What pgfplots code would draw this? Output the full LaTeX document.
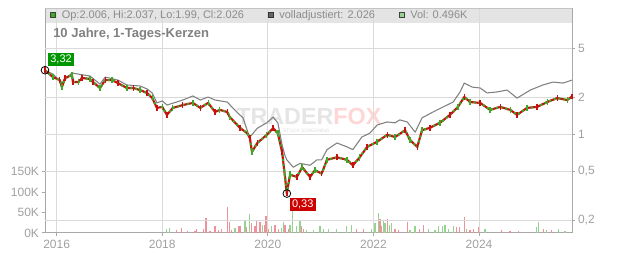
\documentclass[border=0pt]{standalone}
\usepackage{fontspec}
\setmainfont{Liberation Sans}
\usepackage{pgfplots}
\pgfplotsset{compat=1.18}
\usepackage{pgfplotstable}

\definecolor{gridc}{RGB}{218,218,218}
\definecolor{axisc}{RGB}{168,168,168}
\definecolor{tickc}{RGB}{160,160,160}
\definecolor{bandc}{RGB}{228,228,228}
\definecolor{txtc}{RGB}{128,128,128}
\definecolor{legc}{RGB}{140,140,140}
\definecolor{candr}{RGB}{200,16,16}
\definecolor{candg}{RGB}{60,170,40}
\definecolor{adjc}{RGB}{128,128,128}
\definecolor{volr}{RGB}{238,145,155}
\definecolor{volg}{RGB}{150,210,145}
\definecolor{lblg}{RGB}{0,150,0}
\definecolor{lblr}{RGB}{204,0,0}

\pgfplotstableread{
t p
2015.78 3.32
2015.93 2.92
2016.06 2.76
2016.10 2.42
2016.16 2.87
2016.29 3.03
2016.31 2.66
2016.41 2.66
2016.48 2.87
2016.63 2.82
2016.69 2.66
2016.82 2.38
2016.92 2.76
2017.05 2.76
2017.16 2.61
2017.33 2.38
2017.45 2.38
2017.58 2.29
2017.71 2.17
2017.81 1.97
2017.90 1.64
2018.00 1.67
2018.09 1.44
2018.20 1.64
2018.39 1.73
2018.58 1.80
2018.72 1.64
2018.87 1.80
2019.00 1.52
2019.09 1.58
2019.23 1.52
2019.28 1.38
2019.47 1.13
2019.61 1.02
2019.66 0.93
2019.70 0.72
2019.80 0.85
2019.98 0.99
2020.10 1.12
2020.19 1.02
2020.27 0.72
2020.32 0.47
2020.36 0.33
2020.42 0.47
2020.55 0.45
2020.65 0.54
2020.80 0.45
2020.89 0.51
2021.02 0.48
2021.12 0.62
2021.31 0.65
2021.50 0.62
2021.61 0.56
2021.74 0.65
2021.88 0.79
2022.07 0.87
2022.26 0.99
2022.41 0.95
2022.60 1.08
2022.69 0.90
2022.83 0.79
2022.92 1.08
2023.07 1.13
2023.26 1.24
2023.45 1.44
2023.60 1.67
2023.72 2.01
2023.83 1.83
2024.02 1.80
2024.21 1.58
2024.40 1.67
2024.59 1.58
2024.72 1.44
2024.91 1.64
2025.10 1.67
2025.29 1.83
2025.48 1.97
2025.67 1.90
2025.76 2.03
}\price

\pgfplotstableread{
t p
2015.78 3.32
2015.93 3.09
2016.10 2.61
2016.29 3.15
2016.63 2.98
2016.82 2.56
2016.92 2.92
2017.16 2.76
2017.33 2.52
2017.58 2.47
2017.71 2.34
2017.81 2.17
2017.90 1.80
2018.00 1.87
2018.09 1.73
2018.39 1.90
2018.58 2.05
2018.72 1.90
2018.87 2.01
2019.00 1.90
2019.23 1.83
2019.41 1.52
2019.53 1.36
2019.62 1.04
2019.66 0.95
2019.80 1.12
2019.98 1.24
2020.10 1.38
2020.19 1.24
2020.27 0.82
2020.32 0.68
2020.36 0.62
2020.48 0.54
2020.61 0.58
2020.80 0.56
2020.93 0.62
2021.02 0.62
2021.12 0.75
2021.31 0.85
2021.50 0.79
2021.61 0.75
2021.78 0.95
2021.93 1.02
2022.07 1.19
2022.26 1.26
2022.41 1.24
2022.50 1.31
2022.64 1.26
2022.79 1.04
2022.92 1.36
2023.13 1.52
2023.32 1.67
2023.51 1.83
2023.64 2.21
2023.72 2.61
2023.87 2.42
2024.02 2.38
2024.15 2.17
2024.34 2.21
2024.53 2.29
2024.72 1.97
2024.97 2.29
2025.21 2.52
2025.40 2.66
2025.59 2.61
2025.76 2.76
}\adjusted

\pgfplotstableread{
t v
2018.275 7
2018.369 13
2018.475 4
2018.621 5
2018.653 11
2018.778 11
2018.830 37
2018.905 5
2019.000 18
2019.063 8
2019.127 11
2019.233 64
2019.271 26
2019.316 8
2019.441 18
2019.473 17
2019.600 14
2019.695 24
2019.758 18
2019.790 29
2019.852 26
2019.947 19
2019.966 42
2020.009 11
2020.136 20
2020.199 11
2020.326 20
2020.388 11
2020.642 16
2020.672 11
2021.684 11
2021.809 11
2022.125 34
2022.157 16
2022.263 34
2022.409 11
2022.472 7
2022.650 28
2022.869 11
2022.945 19
2023.578 14
2023.627 14
2023.722 40
2023.830 7
2023.892 11
2023.987 14
2024.430 7
2024.587 5
2024.744 5
2025.218 11
2025.377 7
}\volred

\pgfplotstableread{
t v
2018.085 11
2018.134 13
2019.379 12
2019.568 32
2019.650 46
2019.903 19
2020.074 16
2020.263 13
2020.294 26
2020.420 20
2020.464 85
2020.547 16
2020.610 32
2020.737 7
2020.862 7
2020.989 16
2021.051 11
2021.146 10
2021.305 11
2021.494 16
2021.589 19
2021.968 11
2022.030 24
2022.093 48
2022.188 29
2022.220 24
2022.301 20
2022.347 24
2022.693 7
2022.788 16
2023.040 11
2023.167 7
2023.229 16
2023.313 16
2023.356 19
2023.419 11
2023.514 16
2023.767 11
2024.114 11
2025.093 14
2025.123 28
2025.282 7
2025.502 10
2025.629 5
}\volgreen

\begin{document}
\begin{tikzpicture}[x=0.75pt,y=0.75pt]
\useasboundingbox (0,0) rectangle (632,253);
% legend band
\fill[bandc] (45,{253-22.7}) rectangle (572,245);
% watermark
\node[anchor=base west, inner sep=0, font=\fontsize{17.5}{19}\selectfont\bfseries, text=black!10] at (236,{253-125}) {TRADER\textcolor{red!16}{FOX}};
\node[anchor=base west, inner sep=0, font=\fontsize{3.6}{4}\selectfont, text=black!14] at (283,{253-132.5}) {STOCK SCREENING};

% volume axis
\begin{axis}[
  at={(33.75pt,15pt)}, anchor=south west, scale only axis,
  width=395.25pt, height=168.75pt,
  xmin=2015.78, xmax=2025.76, ymin=0, ymax=551,
  axis x line*=bottom, axis y line*=left,
  axis line style={axisc, line width=0.75pt},
  xtick={2016,2018,2020,2022,2024},
  xticklabels={2016,2018,2020,2022,2024},
  ytick={0,50,100,150},
  yticklabels={0K,50K,100K,150K},
  scaled y ticks=false,
  xmajorgrids, major grid style={gridc, line width=0.75pt},
  tick align=outside, major tick length=2.5pt,
  tick style={axisc, line width=0.75pt},
  ticklabel style={font=\fontsize{9}{10}\selectfont, text=tickc},
  xticklabel style={yshift=1pt},
  yticklabel style={xshift=1.5pt},
]
\addplot[ycomb, volr, line width=0.9pt] table[x=t,y=v] {\volred};
\addplot[ycomb, volg, line width=0.9pt] table[x=t,y=v] {\volgreen};
\end{axis}

% price axis
\begin{axis}[
  at={(33.75pt,15pt)}, anchor=south west, scale only axis,
  width=395.25pt, height=168.75pt,
  xmin=2015.78, xmax=2025.76,
  ymode=log, ymin=0.1576, ymax=10.64,
  axis x line=none, axis y line*=right,
  axis line style={axisc, line width=0.75pt},
  xtick=\empty,
  ytick={0.2,0.5,1,2,5},
  yticklabels={{0,2},{0,5},1,2,5},
  yminorticks=false,
  ymajorgrids, major grid style={gridc, line width=0.75pt},
  tick align=outside, major tick length=2.5pt,
  tick style={axisc, line width=0.75pt},
  ticklabel style={font=\fontsize{9}{10}\selectfont, text=tickc},
  yticklabel style={xshift=-1.5pt},
  clip=false,
]
\draw[gridc!90!black, line width=0.75pt] (rel axis cs:0,1) -- (rel axis cs:1,1);
\addplot[adjc, line width=0.8pt, line join=round] table[x=t,y=p] {\adjusted};
\addplot[candr, line width=1.6pt, line join=round, mark=|, mark size=2.2pt, mark options={line width=1pt}] table[x=t,y=p] {\price};
\addplot[candg, line width=1.6pt, line join=round, dash pattern=on 1.5pt off 2.2pt, mark=|, mark size=2.4pt, mark repeat=2, mark phase=2, mark options={solid, line width=1pt}] table[x=t,y=p] {\price};
\addplot[only marks, mark=o, mark size=2.9pt, black, line width=0.6pt] coordinates {(2015.78,3.32) (2020.36,0.33)};
\node[anchor=south west, fill=lblg, text=white, inner xsep=1.6pt, inner ysep=0pt, minimum height=9.75pt, font=\fontsize{8.25}{9}\selectfont, xshift=2.2pt, yshift=2.8pt] at (axis cs:2015.78,3.32) {3,32};
\node[anchor=north west, fill=lblr, text=white, inner xsep=1.6pt, inner ysep=0pt, minimum height=9.75pt, font=\fontsize{8.25}{9}\selectfont, xshift=2.1pt, yshift=-3.1pt] at (axis cs:2020.36,0.33) {0,33};
\end{axis}

% legend entries
\filldraw[fill=candg, draw=black!75, line width=0.5pt] (50,{253-17.7}) rectangle (55.3,{253-12.7});
\node[anchor=base west, inner sep=0, text=legc, font=\fontsize{8.25}{9}\selectfont] at (61.5,{253-19}) {Op:2.006, Hi:2.037, Lo:1.99, Cl:2.026};
\filldraw[fill=black!60, draw=black!80, line width=0.5pt] (268.5,{253-17.7}) rectangle (273.8,{253-12.7});
\node[anchor=base west, inner sep=0, text=legc, font=\fontsize{8.25}{9}\selectfont] at (279,{253-19}) {volladjustiert: 2.026};
\filldraw[fill=volg, draw=black!75, line width=0.5pt] (399.5,{253-17.7}) rectangle (404.8,{253-12.7});
\node[anchor=base west, inner sep=0, text=legc, font=\fontsize{8.25}{9}\selectfont] at (410,{253-19}) {Vol: 0.496K};
% title
\node[anchor=base west, inner sep=0, text=txtc, font=\fontsize{9.75}{11}\selectfont\bfseries] at (53,{253-37.5}) {10 Jahre, 1-Tages-Kerzen};
\end{tikzpicture}
\end{document}
